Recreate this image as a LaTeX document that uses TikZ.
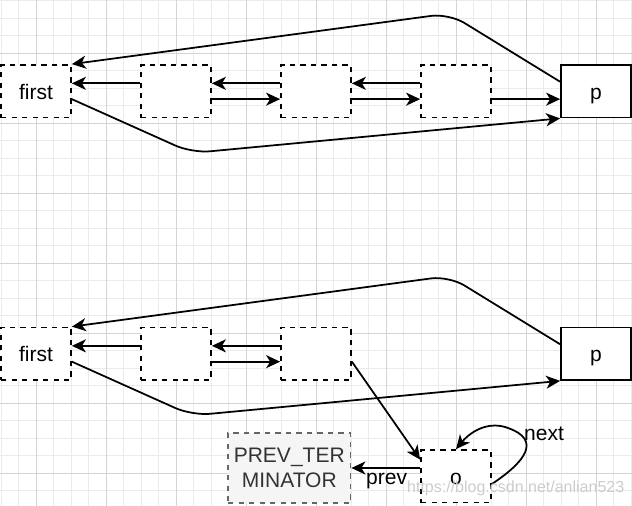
\documentclass[tikz,border=0pt]{standalone}
\usepackage{fontspec}
\setmainfont{Liberation Sans}
\usetikzlibrary{arrows.meta,calc}
\definecolor{gridminor}{HTML}{EBEBEB}
\definecolor{gridmajor}{HTML}{D4D4D4}
\definecolor{ptfill}{HTML}{F5F5F5}
\definecolor{ptdraw}{HTML}{666666}
\definecolor{pttext}{HTML}{333333}
\begin{document}
\begin{tikzpicture}[x=1pt,y=-1pt,
  txt/.style={font=\fontsize{21}{25.2}\selectfont},
  basebox/.style={txt,line width=1.75pt,fill=white,minimum width=70pt,minimum height=52.5pt,inner sep=0pt,text height=16pt,text depth=0pt},
  dbox/.style={basebox,draw=black,dash pattern=on 5.25pt off 5.25pt},
  sbox/.style={basebox,draw=black},
  ptbox/.style={txt,draw=ptdraw,fill=ptfill,text=pttext,line width=1.75pt,dash pattern=on 5.25pt off 5.25pt,minimum width=122.5pt,minimum height=70pt,inner sep=0pt,align=center},
  arr/.style={line width=1.75pt,-{Stealth[length=14pt,width=13pt,inset=4pt]}},
  lbl/.style={txt,inner sep=0pt,anchor=base west},
  minor/.style={gridminor,line width=1pt},
  major/.style={gridmajor,line width=1pt}
]
\useasboundingbox (0,0) rectangle (632,506);
\fill[white] (0,0) rectangle (632,506);
% grid
\foreach \i in {0,...,36} { \draw[minor] ({1+17.5*\i},0) -- ({1+17.5*\i},506); }
\foreach \j in {0,...,28} { \draw[minor] (0,{0.5+17.5*\j}) -- (632,{0.5+17.5*\j}); }
\foreach \i in {0,...,8} { \draw[major] ({36+70*\i},0) -- ({36+70*\i},506); }
\foreach \j in {0,...,6} { \draw[major] (0,{53+70*\j}) -- (632,{53+70*\j}); }

% row 1
\node[dbox] (f1) at (36,91.25) {first};
\node[dbox] (a1) at (176,91.25) {};
\node[dbox] (b1) at (316,91.25) {};
\node[dbox] (c1) at (456,91.25) {};
\node[sbox] (p1) at (596,91.25) {p};
\coordinate (t1) at (449,13.5);
\coordinate (u1) at (192,153);

\draw[arr] ([yshift=7.9pt]a1.west) -- ([yshift=7.9pt]f1.east);
\draw[arr] ([yshift=7.9pt]b1.west) -- ([yshift=7.9pt]a1.east);
\draw[arr] ([yshift=-7.9pt]a1.east) -- ([yshift=-7.9pt]b1.west);
\draw[arr] ([yshift=7.9pt]c1.west) -- ([yshift=7.9pt]b1.east);
\draw[arr] ([yshift=-7.9pt]b1.east) -- ([yshift=-7.9pt]c1.west);
\draw[arr] ([yshift=-7.9pt]c1.east) -- ([yshift=-7.9pt]p1.west);
\draw[arr,rounded corners=18pt] ([yshift=9.5pt]p1.west) -- (t1) -- (f1.north east);
\draw[arr,rounded corners=18pt] ([yshift=-7.9pt]f1.east) -- (u1) -- (p1.south west);

% row 2
\node[dbox] (f2) at (36,353.75) {first};
\node[dbox] (a2) at (176,353.75) {};
\node[dbox] (b2) at (316,353.75) {};
\node[sbox] (p2) at (596,353.75) {p};
\node[dbox] (o) at (456,476.25) {o};
\node[ptbox] (pt) at (289.25,468) {PREV\_TER\\MINATOR};
\coordinate (t2) at (449,276);
\coordinate (u2) at (192,415.5);

\draw[arr] ([yshift=7.9pt]a2.west) -- ([yshift=7.9pt]f2.east);
\draw[arr] ([yshift=7.9pt]b2.west) -- ([yshift=7.9pt]a2.east);
\draw[arr] ([yshift=-7.9pt]a2.east) -- ([yshift=-7.9pt]b2.west);
\draw[arr,rounded corners=18pt] ([yshift=9.5pt]p2.west) -- (t2) -- (f2.north east);
\draw[arr,rounded corners=18pt] ([yshift=-7.9pt]f2.east) -- (u2) -- (p2.south west);
\draw[arr] ([yshift=-7.9pt]b2.east) -- ([yshift=-10.5pt]o.north west);
\draw[arr] (o.west |- pt.east) -- (pt.east);
\draw[arr] ([yshift=-7.75pt]o.east) .. controls (525,462) and (542,440) .. (508,428)
  .. controls (490,421) and (472,430) .. (o.north);
\node[lbl] (prevlbl) at (366,484) {prev};
\node[lbl] (nextlbl) at (524,440) {next};
\node[anchor=base west,inner sep=0pt,font=\fontsize{16}{19}\selectfont,text=black!20] (wm) at (407,492) {https://blog.csdn.net/anlian523};
\end{tikzpicture}
\end{document}
